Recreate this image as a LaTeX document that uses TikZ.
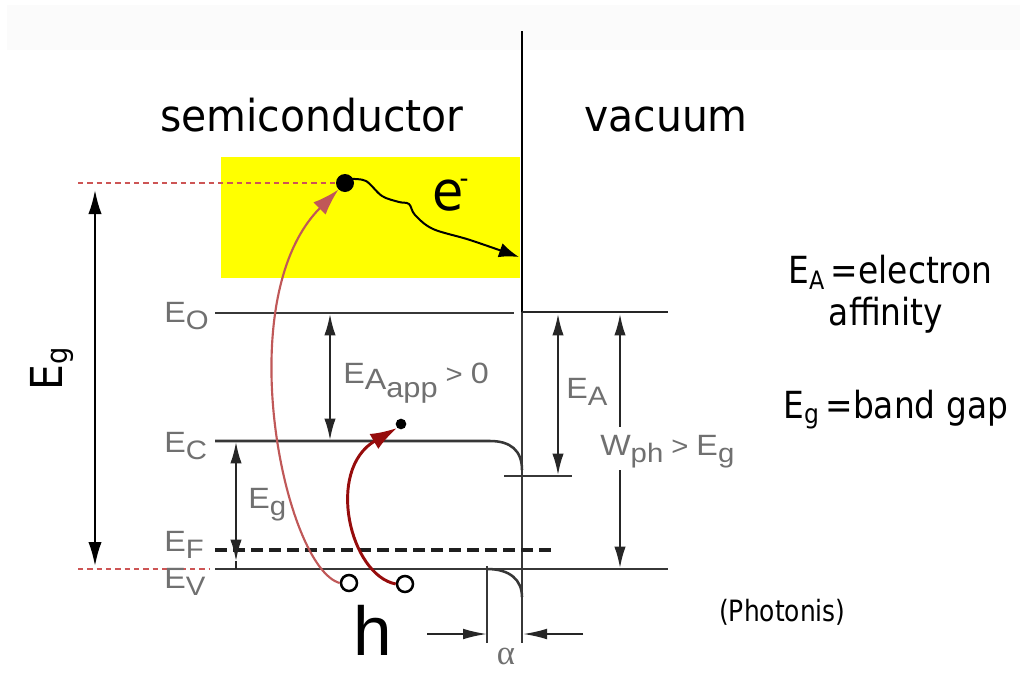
\documentclass[tikz,border=0pt]{standalone}
\usepackage{fontspec}
\setmainfont{Liberation Sans}
\newfontfamily\djv[FakeStretch=0.93]{DejaVu Sans}
\newfontfamily\djvs[FakeStretch=0.88]{DejaVu Sans}
\newfontfamily\djvc[FakeStretch=0.85]{DejaVu Sans}
\newfontfamily\labf[FakeStretch=1.1]{Liberation Sans}
\newfontfamily\lser{Liberation Serif}
\usetikzlibrary{arrows.meta}
\newcommand\px[1]{\fontsize{#1}{#1}\selectfont}
\newcommand\lsub[1]{\raisebox{-5.5pt}{\px{20}#1}}
\definecolor{labgray}{RGB}{112,112,112}
\definecolor{bandgray}{RGB}{55,55,55}
\definecolor{lred}{RGB}{192,88,88}
\definecolor{dred}{RGB}{150,12,12}
\definecolor{dashred}{RGB}{205,85,85}
\definecolor{ylw}{RGB}{255,255,0}
\tikzset{
  band/.style={draw=bandgray, line width=1.9pt},
  dimarrow/.style={draw=black!85, line width=1.4pt, {Latex[length=16pt,width=8.5pt]}-{Latex[length=16pt,width=8.5pt]}},
  onearrow/.style={draw=black!85, line width=1.4pt, -{Latex[length=18pt,width=8pt]}},
  reddash/.style={draw=dashred, line width=0.9pt, dash pattern=on 4pt off 3pt},
  lab/.style={text=labgray, font=\labf\px{22}, inner sep=0pt},
  big/.style={font=\djv\px{33}, inner sep=0pt},
  side/.style={font=\djvs\px{28}, inner sep=0pt},
  dot/.style={circle, fill=black, inner sep=0pt},
  hole/.style={circle, draw=black, line width=1.9pt, fill=white, inner sep=0pt, minimum size=12pt}
}
\begin{document}
\begin{tikzpicture}[x=0.75pt,y=-0.75pt]
\useasboundingbox (0,0) rectangle (1025,700);
\fill[white] (0,0) rectangle (1025,700);
\fill[black!1.5] (7,5) rectangle (1020,50);
% yellow region
\fill[ylw] (221,157) rectangle (520,278);
% titles
\node[big, anchor=base] (semi) at (312,131) {semiconductor};
\node[big, anchor=base] (vac) at (666,131) {vacuum};
% interface line
\coordinate (vtop) at (522,31);
\coordinate (vmid) at (522,312);
\coordinate (vbot) at (522,643);
\draw[black, line width=2.2pt] (vtop) -- (vmid);
\draw[band] (vmid) -- (vbot);
% levels
\coordinate (eo1) at (215,313); \coordinate (eo2) at (514,313);
\coordinate (vac2) at (668,312);
\draw[band, line width=1.6pt] (eo1) -- (eo2);
\draw[black!85, line width=2.2pt] (vmid) -- (vac2);
\coordinate (ec1) at (215,441); \coordinate (ec2) at (490,441); \coordinate (ec3) at (522,470);
\draw[band] (ec1) -- (ec2) .. controls (510,441) and (522,450) .. (ec3);
\coordinate (tk1) at (504,476); \coordinate (tk2) at (572,476);
\draw[band, line width=1.5pt] (tk1) -- (tk2);
\coordinate (ef1) at (215,550); \coordinate (ef2) at (553,550);
\draw[draw=black!88, line width=2.6pt, dash pattern=on 9pt off 4.5pt] (ef1) -- (ef2);
\coordinate (ev1) at (215,569); \coordinate (ev2) at (668,569);
\draw[band, line width=1.6pt] (ev1) -- (ev2);
\coordinate (bb1) at (487,569); \coordinate (bb2) at (522,597);
\draw[band] (bb1) .. controls (510,569) and (522,580) .. (bb2);
\coordinate (al1) at (487,566); \coordinate (al2) at (487,643);
\draw[band, line width=1.5pt] (al1) -- (al2);
% alpha arrows
\coordinate (aL) at (427,634); \coordinate (aLe) at (487,634);
\coordinate (aR) at (583,634); \coordinate (aRe) at (523,634);
\draw[onearrow] (aL) -- (aLe);
\draw[onearrow] (aR) -- (aRe);
\node[text=labgray, inner sep=0pt, font=\lser\px{26}] (alpha) at (506,656) {α};
% red dashed reference lines
\node[dot, minimum size=13.5pt] (dot1) at (345,183) {};
\coordinate (rd1) at (78,183);
\draw[reddash] (rd1) -- (dot1.west);
\coordinate (rd2) at (78,569); \coordinate (rd3) at (210,569);
\draw[reddash] (rd2) -- (rd3);
% big Eg arrow
\coordinate (bg1) at (95,190); \coordinate (bg2) at (95,566);
\draw[black, line width=1.6pt, {Latex[length=18pt,width=10pt]}-{Latex[length=18pt,width=10pt]}] (bg1) -- (bg2);
\node[big, rotate=90, anchor=base west] (bigeg) at (62,391) {E\raisebox{-4pt}{\px{22}g}};
% dimension arrows
\coordinate (ap1) at (330,314); \coordinate (ap2) at (330,440);
\draw[dimarrow] (ap1) -- (ap2);
\coordinate (ea1) at (558,314); \coordinate (ea2) at (558,475);
\draw[dimarrow] (ea1) -- (ea2);
\coordinate (w1) at (620,314); \coordinate (w2) at (620,427);
\coordinate (w3) at (620,470); \coordinate (w4) at (620,568);
\draw[draw=black!85, line width=1.4pt, {Latex[length=16pt,width=8.5pt]}-] (w1) -- (w2);
\draw[draw=black!85, line width=1.4pt, -{Latex[length=16pt,width=8.5pt]}] (w3) -- (w4);
\coordinate (g1) at (236,442); \coordinate (g2) at (236,561); \coordinate (g3) at (236,569);
\draw[dimarrow] (g1) -- (g2);
\draw[draw=black!85, line width=1.4pt] (g2) -- (g3);
% grey labels
\node[lab, anchor=base west] (lEO) at (164,322) {E\lsub{O}};
\node[lab, anchor=base west] (lEC) at (164,452) {E\lsub{C}};
\node[lab, anchor=base west] (lEF) at (164,551) {E\lsub{F}};
\node[lab, anchor=base west] (lEV) at (164,588) {E\lsub{V}};
\node[lab, anchor=base west] (lEg) at (248,508) {E\lsub{g}};
\node[lab, anchor=base west] (lEapp) at (343,383) {E\raisebox{-5pt}{A}\raisebox{-10.5pt}{\px{21}app}\kern6pt{\px{20}>}\kern6pt0};
\node[lab, anchor=base west] (lEA) at (566,398) {E\lsub{A}};
\node[lab, anchor=base west] (lW) at (600,455) {W\lsub{ph}\kern6pt{\px{20}>}\kern6pt E\lsub{g}};
% electron and wavy path
\coordinate (wend) at (519,257);
\draw[black, line width=1.5pt, -{Latex[length=15pt,width=11pt]}] plot[smooth, tension=0.55] coordinates {(351,179) (366,181) (382,196) (399,202) (409,204) (415,215) (433,229) (470,240) (519,257)};
\node[inner sep=0pt, anchor=base west, font=\djv\px{41}] (elab) at (432,210) {e\kern-3pt\raisebox{0.42em}{\px{20}-}};
% second electron and holes
\node[dot, minimum size=8pt] (dot2) at (401,424) {};
\node[hole] (h1) at (349,583) {};
\node[hole] (h2) at (405,584) {};
\draw[lred, line width=1.6pt, -{Latex[length=20pt,width=13pt]}] (h1.west) .. controls (285,568) and (228,300) .. (dot1.south west);
\draw[dred, line width=2.2pt, -{Latex[length=20pt,width=13pt]}] (h2.west) .. controls (350,575) and (325,470) .. (dot2.south west);
\node[inner sep=0pt, anchor=base west, font=\px{52}] (hlab) at (353,655) {h};
% right side text
\node[side, anchor=base west] (t1) at (788,283) {E\raisebox{-5pt}{\px{19}A}\kern5pt=electron};
\node[side, anchor=base] (t2) at (886,325) {affinity};
\node[side, anchor=base west] (t3) at (783,418) {E\raisebox{-4pt}{\px{20}g}\kern5pt=band gap};
\node[inner sep=0pt, anchor=base west, font=\djvc\px{22}] (phot) at (719,621) {(Photonis)};
\end{tikzpicture}
\end{document}
